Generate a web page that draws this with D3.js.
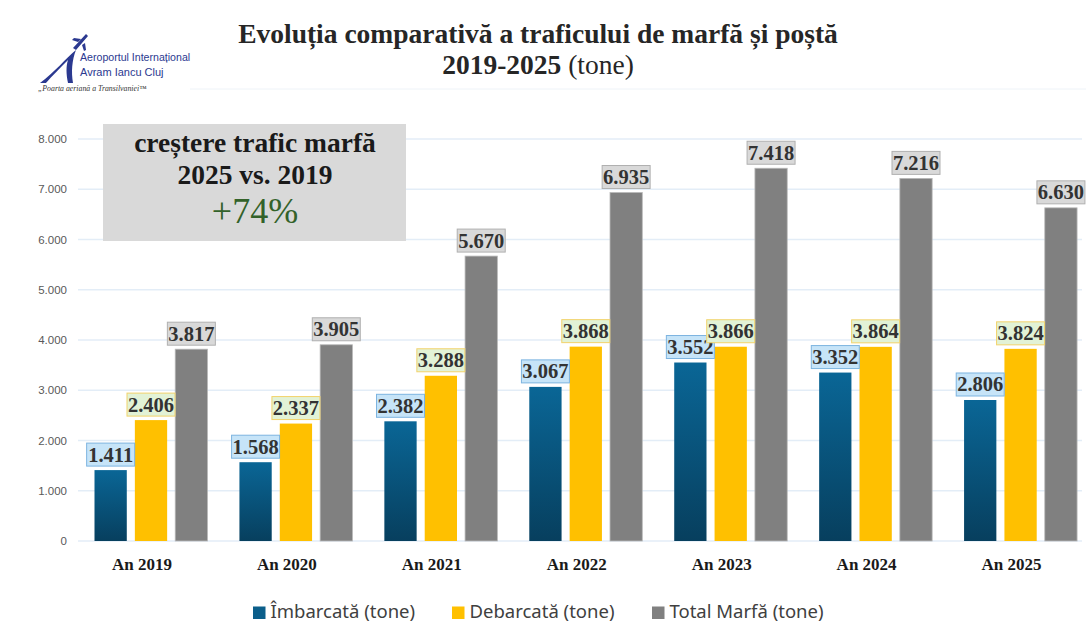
<!DOCTYPE html>
<html>
<head>
<meta charset="utf-8">
<script src="https://cdn.jsdelivr.net/npm/d3@7"></script>
<style>
  body { margin: 0; background: #fff; }
  svg { display: block; }
</style>
</head>
<body>
<div id="chart"></div>
<script>
// data
var years = ["An 2019", "An 2020", "An 2021", "An 2022", "An 2023", "An 2024", "An 2025"];
var seriesNames = ["Îmbarcată (tone)", "Debarcată (tone)", "Total Marfă (tone)"];
var imbarcata = [1411, 1568, 2382, 3067, 3552, 3352, 2806];
var debarcata = [2406, 2337, 3288, 3868, 3866, 3864, 3824];
var totalMarfa = [3817, 3905, 5670, 6935, 7418, 7216, 6630];
var yTicks = [0, 1000, 2000, 3000, 4000, 5000, 6000, 7000, 8000];

var w = 1086, h = 623;
var serif = "'Liberation Serif', 'Times New Roman', serif";
var sans = "'Liberation Sans', Arial, sans-serif";

// colours per series: bar fill, label box fill, label box border
var barFill = ["url(#blueGrad)", "#ffc000", "#808080"];
var boxFill = ["#c6e4f8", "#e2f2d6", "#d9d9d9"];
var boxStroke = ["#7db4e0", "#f2d36b", "#b0b0b0"];
var legendColor = ["#0b5e8a", "#ffc000", "#808080"];

var data = years.map(function(y, i) {
    return {year: y, values: [imbarcata[i], debarcata[i], totalMarfa[i]]};
});

var svg = d3.select("#chart").append("svg")
    .attr("width", w)
    .attr("height", h);

var defs = svg.append("defs");
var grad = defs.append("linearGradient")
    .attr("id", "blueGrad")
    .attr("x1", 0).attr("y1", 0).attr("x2", 0).attr("y2", 1);
grad.append("stop").attr("offset", "0%").attr("stop-color", "#0a6696");
grad.append("stop").attr("offset", "100%").attr("stop-color", "#073f5e");

var y = d3.scaleLinear().domain([0, 8000]).range([541, 139]);
var x0 = d3.scaleBand().domain(years).range([78.5, 1093]).padding(0);
var x1 = d3.scaleBand().domain([0, 1, 2]).range([16, 129]).paddingInner(0.2);

var fmt = function(v) {
    return d3.format(",")(v).replace(/,/g, ".");
};

// grid lines
svg.append("g").selectAll("line")
    .data(yTicks)
    .enter()
    .append("line")
    .attr("x1", 78)
    .attr("x2", 1082)
    .attr("y1", function(d) { return y(d); })
    .attr("y2", function(d) { return y(d); })
    .attr("stroke", "#e3edf7")
    .attr("stroke-width", 1.3);

// y axis labels
var yAxis = d3.axisLeft(y).tickValues(yTicks).tickFormat(fmt).tickSize(0).tickPadding(0);
var yg = svg.append("g").attr("transform", "translate(67,0)").call(yAxis);
yg.select(".domain").remove();
yg.selectAll("text")
    .attr("font-family", sans)
    .attr("font-size", 11.5)
    .attr("fill", "#595959");

// annotation box
svg.append("rect")
    .attr("x", 103).attr("y", 124)
    .attr("width", 303).attr("height", 117)
    .attr("fill", "#d9d9d9");
svg.append("text")
    .attr("x", 255).attr("y", 152)
    .attr("text-anchor", "middle")
    .attr("font-family", serif).attr("font-weight", "bold").attr("font-size", 27.5)
    .attr("fill", "#1a1a1a")
    .text("creștere trafic marfă");
svg.append("text")
    .attr("x", 255).attr("y", 184)
    .attr("text-anchor", "middle")
    .attr("font-family", serif).attr("font-weight", "bold").attr("font-size", 27.5)
    .attr("fill", "#1a1a1a")
    .text("2025 vs. 2019");
svg.append("text")
    .attr("x", 255).attr("y", 223)
    .attr("text-anchor", "middle")
    .attr("font-family", serif).attr("font-size", 36)
    .attr("fill", "#33622a")
    .text("+74%");

// bars
var groups = svg.selectAll("g.year")
    .data(data)
    .enter()
    .append("g")
    .attr("class", "year")
    .attr("transform", function(d) { return "translate(" + x0(d.year) + ",0)"; });

groups.selectAll("rect.bar")
    .data(function(d) { return d.values.map(function(v, i) { return {i: i, v: v}; }); })
    .enter()
    .append("rect")
    .attr("class", "bar")
    .attr("x", function(d) { return x1(d.i); })
    .attr("width", x1.bandwidth())
    .attr("y", function(d) { return y(d.v); })
    .attr("height", function(d) { return y(0) - y(d.v); })
    .attr("fill", function(d) { return barFill[d.i]; })
    .attr("stroke", function(d) { return d.i === 2 ? "#b8b8b8" : "none"; })
    .attr("stroke-width", 0.8);

// value labels in boxes
var labels = groups.selectAll("g.lab")
    .data(function(d) { return d.values.map(function(v, i) { return {i: i, v: v}; }); })
    .enter()
    .append("g")
    .attr("class", "lab")
    .attr("transform", function(d) {
        return "translate(" + (x1(d.i) + x1.bandwidth() / 2) + "," + (y(d.v) - 4) + ")";
    });

labels.append("rect")
    .attr("x", -24).attr("y", -23)
    .attr("width", 48).attr("height", 23)
    .attr("fill", function(d) { return boxFill[d.i]; })
    .attr("stroke", function(d) { return boxStroke[d.i]; })
    .attr("stroke-width", 1);

labels.append("text")
    .attr("text-anchor", "middle")
    .attr("y", -4.5)
    .attr("font-family", serif).attr("font-weight", "bold").attr("font-size", 20.5)
    .attr("fill", "#333333")
    .text(function(d) { return fmt(d.v); });

// x axis labels
svg.selectAll("text.xlab")
    .data(years)
    .enter()
    .append("text")
    .attr("class", "xlab")
    .attr("x", function(d) { return x0(d) + x0.bandwidth() / 2 - 9; })
    .attr("y", 570)
    .attr("text-anchor", "middle")
    .attr("font-family", serif).attr("font-weight", "bold").attr("font-size", 17)
    .attr("fill", "#1a1a1a")
    .text(function(d) { return d; });

// title
svg.append("text")
    .attr("x", 538).attr("y", 43)
    .attr("text-anchor", "middle")
    .attr("font-family", serif).attr("font-weight", "bold").attr("font-size", 27.5)
    .attr("fill", "#262626")
    .text("Evoluția comparativă a traficului de marfă și poștă");
var t2 = svg.append("text")
    .attr("x", 538).attr("y", 74)
    .attr("text-anchor", "middle")
    .attr("font-family", serif).attr("font-size", 27.5)
    .attr("fill", "#262626");
t2.append("tspan").attr("font-weight", "bold").text("2019-2025");
t2.append("tspan").text(" (tone)");

// logo
var logo = svg.append("g");
logo.append("path")
    .attr("d", "M40,83 C55,72 66,58 76,50 C72,60 71,72 73,83 L68,83 C66,74 66,66 68,60 C60,68 52,76 46,83 Z")
    .attr("fill", "#2b3990");
logo.append("path")
    .attr("d", "M73,48 L86,34 L88,36 L76,50 Z M78,42 L72,40 L74,38 L81,39 Z M82,45 L84,51 L86,50 L85,43 Z")
    .attr("fill", "#2b3990");
logo.append("text")
    .attr("x", 80).attr("y", 61)
    .attr("font-family", sans).attr("font-size", 10.6)
    .attr("fill", "#2b3990")
    .text("Aeroportul Internațional");
logo.append("text")
    .attr("x", 80).attr("y", 76)
    .attr("font-family", sans).attr("font-size", 11)
    .attr("fill", "#2b3990")
    .text("Avram Iancu Cluj");
logo.append("text")
    .attr("x", 38).attr("y", 91)
    .attr("font-family", serif).attr("font-style", "italic").attr("font-size", 7.8)
    .attr("fill", "#333")
    .text("„Poarta aeriană a Transilvaniei™");
svg.append("line")
    .attr("x1", 190).attr("x2", 1086)
    .attr("y1", 89).attr("y2", 89)
    .attr("stroke", "#eef3f8").attr("stroke-width", 1);

// legend
var legendX = [253, 452, 652];
var legend = svg.selectAll("g.legend")
    .data(seriesNames)
    .enter()
    .append("g")
    .attr("class", "legend")
    .attr("transform", function(d, i) { return "translate(" + legendX[i] + ",606.5)"; });

legend.append("rect")
    .attr("width", 12.5).attr("height", 12.5)
    .attr("fill", function(d, i) { return legendColor[i]; });

legend.append("text")
    .attr("x", 17.5).attr("y", 11.5)
    .attr("font-family", "'Noto Sans', sans-serif").attr("font-size", 18.5)
    .attr("fill", "#404040")
    .text(function(d) { return d; });
</script>
</body>
</html>
